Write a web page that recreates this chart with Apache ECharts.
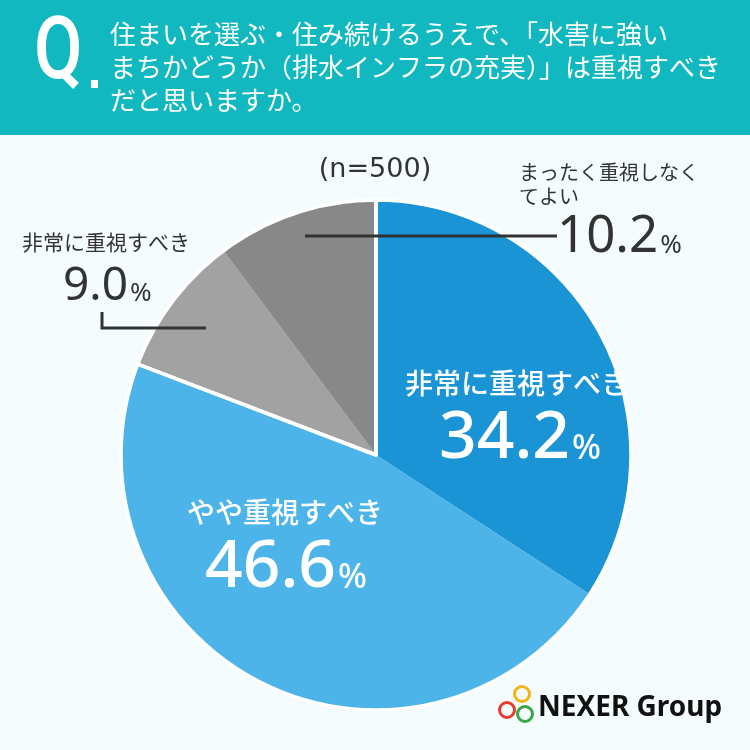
<!DOCTYPE html>
<html><head><meta charset="utf-8">
<script src="https://cdn.jsdelivr.net/npm/echarts@6/dist/echarts.min.js"></script>
<style>html,body{margin:0;padding:0;background:#f4fcfd;}#c{width:750px;height:750px;}</style>
</head><body><div id="c"></div>
<script>
const categories = ['非常に重視すべき', 'やや重視すべき', '非常に重視すべき', 'まったく重視しなくてよい'];
const values = [34.2, 46.6, 9.0, 10.2];
const colors = ['#1b94d5', '#4db4ea', '#a2a2a2', '#888888'];
const questionLines = ['住まいを選ぶ・住み続けるうえで、「水害に強い', 'まちかどうか（排水インフラの充実）」は重視すべき', 'だと思いますか。'];
const sampleNote = '(n=500)';

const JP = '"Noto Sans CJK JP", "Noto Sans", sans-serif';
const NUM = '"Noto Sans", "Noto Sans CJK JP", sans-serif';

function valText(v, big, small, color, weight) {
  return {
    text: '{a|' + v.toFixed(1) + '}{b|%}',
    rich: {
      a: { fontSize: big, fontFamily: NUM, fontWeight: weight || 500, fill: color, verticalAlign: 'bottom' },
      b: { fontSize: small, fontFamily: NUM, fontWeight: weight || 500, fill: color, verticalAlign: 'bottom', padding: [0, 0, big * 0.08, 2] }
    }
  };
}

const chart = echarts.init(document.getElementById('c'), null, { renderer: 'canvas' });
const graphic = [
  { type: 'rect', shape: { x: 0, y: 0, width: 750, height: 135 }, style: { fill: '#11b8bf' }, z: 1 },
  { type: 'text', x: 34, y: 12, scaleX: 0.8, style: { text: 'Q', fontSize: 88, fontFamily: 'Roboto, "Noto Sans", sans-serif', fontWeight: 500, fill: '#fff' }, z: 2 },
  { type: 'rect', shape: { x: 91, y: 80, width: 7, height: 8 }, style: { fill: '#fff' }, z: 2 },
  { type: 'text', x: 110, y: 34, style: { text: questionLines[0], fontSize: 26, fontFamily: JP, fill: '#fff', textVerticalAlign: 'middle' }, z: 2 },
  { type: 'text', x: 110, y: 67, style: { text: questionLines[1], fontSize: 26, fontFamily: JP, fill: '#fff', textVerticalAlign: 'middle' }, z: 2 },
  { type: 'text', x: 110, y: 100, style: { text: questionLines[2], fontSize: 26, fontFamily: JP, fill: '#fff', textVerticalAlign: 'middle' }, z: 2 },

  { type: 'text', x: 375, y: 170, style: { text: sampleNote, fontSize: 27, fontFamily: '"DejaVu Sans", sans-serif', fill: '#333', textAlign: 'center', textVerticalAlign: 'middle' }, z: 5 },

  // top right label
  { type: 'text', x: 519, y: 160, style: { text: 'まったく重視しなく\nてよい', fontSize: 20, lineHeight: 24, fontFamily: JP, fill: '#333' }, z: 5 },
  { type: 'text', x: 557, y: 263, style: Object.assign({ textVerticalAlign: 'bottom' }, valText(values[3], 51, 26, '#333', 400)), z: 5 },
  { type: 'line', shape: { x1: 305, y1: 236, x2: 557, y2: 236 }, style: { stroke: '#333', lineWidth: 3 }, z: 5 },

  // left label
  { type: 'text', x: 22, y: 232, style: { text: categories[2], fontSize: 21, fontFamily: JP, fill: '#333' }, z: 5 },
  { type: 'text', x: 63, y: 310, style: Object.assign({ textVerticalAlign: 'bottom' }, valText(values[2], 46, 26, '#333', 400)), z: 5 },
  { type: 'polyline', shape: { points: [[102, 312], [102, 328], [206, 328]] }, style: { stroke: '#333', lineWidth: 3, fill: null }, z: 5 },

  // inner labels
  { type: 'text', x: 517, y: 383, style: { text: categories[0], fontSize: 28, fontFamily: JP, fontWeight: 500, fill: '#fff', textAlign: 'center', textVerticalAlign: 'middle' }, z: 5 },
  { type: 'text', x: 520, y: 472, style: Object.assign({ textAlign: 'center', textVerticalAlign: 'bottom' }, valText(values[0], 66, 34, '#fff', 500)), z: 5 },
  { type: 'text', x: 285, y: 512, style: { text: categories[1], fontSize: 28, fontFamily: JP, fontWeight: 500, fill: '#fff', textAlign: 'center', textVerticalAlign: 'middle' }, z: 5 },
  { type: 'text', x: 286, y: 601, style: Object.assign({ textAlign: 'center', textVerticalAlign: 'bottom' }, valText(values[1], 66, 34, '#fff', 500)), z: 5 },

  // logo
  { type: 'circle', shape: { cx: 507, cy: 710, r: 7.5 }, style: { fill: null, stroke: '#e43d30', lineWidth: 3 }, z: 5 },
  { type: 'circle', shape: { cx: 522, cy: 694, r: 7.5 }, style: { fill: null, stroke: '#f3b416', lineWidth: 3 }, z: 5 },
  { type: 'circle', shape: { cx: 525, cy: 714, r: 7.5 }, style: { fill: null, stroke: '#3aa846', lineWidth: 3 }, z: 5 },
  { type: 'text', x: 538, y: 708, style: { text: 'NEXER Group', fontSize: 28, fontFamily: '"Noto Sans", sans-serif', fontWeight: 'bold', fill: '#111', textVerticalAlign: 'middle' }, z: 5 }
];

chart.setOption({
  backgroundColor: '#f4fcfd',
  animation: false,
  graphic: graphic,
  series: [
    {
      type: 'pie',
      center: [376, 455],
      radius: [0, 254],
      startAngle: 90,
      clockwise: true,
      silent: true,
      label: { show: false },
      labelLine: { show: false },
      itemStyle: { borderWidth: 0 },
      data: categories.map((n, i) => ({ name: n, value: values[i], itemStyle: { color: colors[i] } }))
    },
    {
      type: 'pie',
      center: [376, 455],
      radius: [0, 255],
      startAngle: 90,
      clockwise: true,
      silent: true,
      label: { show: false },
      labelLine: { show: false },
      z: 3,
      itemStyle: { color: 'rgba(0,0,0,0)', borderColor: '#fff', borderWidth: 3.5 },
      data: [
        { name: 'important', value: values[0] + values[1] },
        { name: 'not', value: values[2] + values[3] }
      ]
    }
  ]
});
</script></body></html>
